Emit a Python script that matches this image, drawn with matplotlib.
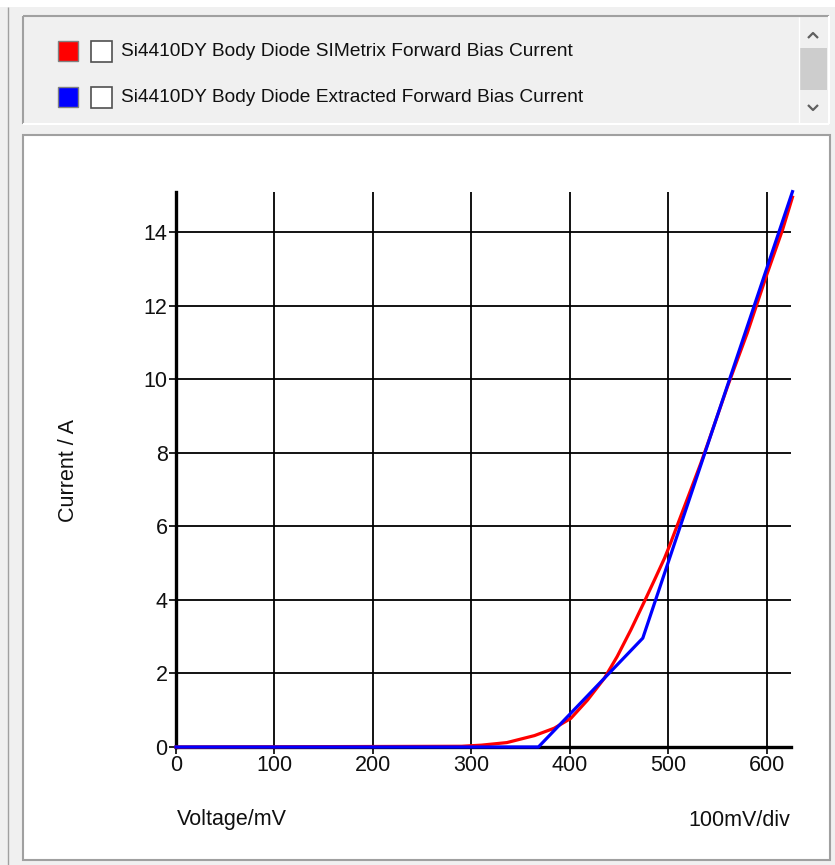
import matplotlib
matplotlib.use("Agg")
import matplotlib.pyplot as plt
from matplotlib.patches import Rectangle
from matplotlib.lines import Line2D

W, H = 835, 865

# SIMetrix simulated forward bias curve (mV, A)
red_v = [0, 290, 310, 336, 364, 384, 401, 418, 435, 448, 462, 475, 486, 496, 501, 520, 533, 540, 560, 580, 600, 616, 626]
red_i = [0, 0.02, 0.05, 0.12, 0.31, 0.51, 0.78, 1.28, 1.87, 2.46, 3.19, 3.92, 4.55, 5.13, 5.46, 6.8, 7.72, 8.25, 9.8, 11.25, 12.85, 14.07, 14.95]
# extracted model curve (piecewise linear)
blue_v = [0, 368, 474, 626]
blue_i = [0, 0, 2.96, 15.1]

legend_labels = ["Si4410DY Body Diode SIMetrix Forward Bias Current",
                 "Si4410DY Body Diode Extracted Forward Bias Current"]
legend_colors = ["#ff0000", "#0000ff"]
x_ticks = [0, 100, 200, 300, 400, 500, 600]
y_ticks = [0, 2, 4, 6, 8, 10, 12, 14]

plt.rcParams['font.family'] = ['Liberation Sans', 'DejaVu Sans']

fig = plt.figure(figsize=(W / 100, H / 100), dpi=100)
fig.patch.set_facecolor("#f0f0f0")


def fx(px):
    return px / W


def fy(py):
    return 1 - py / H


def box(x0, y0, x1, y1, z=0, **kw):
    r = Rectangle((fx(x0), fy(y1)), fx(x1) - fx(x0), fy(y0) - fy(y1),
                  transform=fig.transFigure, zorder=z, **kw)
    fig.patches.append(r)


def seg(xs, ys, color, lw=1.0):
    fig.add_artist(Line2D([fx(x) for x in xs], [fy(y) for y in ys], color=color, lw=lw,
                          transform=fig.transFigure, solid_capstyle="butt"))


# window chrome
box(0, 0, W, 7, facecolor="white", edgecolor="none")
seg([8, 8], [7, H], "#a0a0a0", 1.0)

# legend panel (sunken)
seg([23, 829], [16, 16], "#a0a0a0", 1.5)
seg([23, 23], [16, 124], "#a0a0a0", 1.5)
seg([23, 829], [124, 124], "white", 1.5)
seg([829, 829], [16, 124], "white", 1.5)
seg([799, 799], [17, 123], "white", 1.0)
box(800, 48, 827, 90, facecolor="#cdcdcd", edgecolor="none")
seg([808, 813, 818], [38, 33, 38], "#606060", 1.6)
seg([808, 813, 818], [105, 110, 105], "#606060", 1.6)

for k, (lab, col) in enumerate(zip(legend_labels, legend_colors)):
    yc = 51 + k * 46
    box(58, yc - 10, 78, yc + 10, facecolor=col, edgecolor="#808080", lw=1.0)
    box(91, yc - 10, 112, yc + 11, facecolor="white", edgecolor="#505050", lw=1.2)
    fig.text(fx(121), fy(yc + 1), lab, ha="left", va="center", fontsize=13.8,
             color="#101010")

# plot panel
box(23, 135, 830, 860, z=-5, facecolor="white", edgecolor="#a0a0a0", lw=1.5)

ax = fig.add_axes([fx(176), fy(747), fx(791) - fx(176), fy(192) - fy(747)])
ax.set_zorder(5)
ax.set_facecolor("white")
ax.set_xlim(0, 624.5)
ax.set_ylim(0, 15.09)
ax.set_xticks(x_ticks)
ax.set_yticks(y_ticks)
ax.set_xticklabels([str(v) for v in x_ticks], fontsize=15.5)
ax.set_yticklabels([str(v) for v in y_ticks], fontsize=15.5)
ax.tick_params(length=5, width=1.2, color="black", pad=1, labelcolor="#101010")
ax.grid(True, color="black", lw=1.3)
ax.set_axisbelow(True)
for s in ["top", "right"]:
    ax.spines[s].set_visible(False)
for s in ["left", "bottom"]:
    ax.spines[s].set_linewidth(2.4)

ax.plot(red_v, red_i, color="#ff0000", lw=2.3, solid_joinstyle="round",
        zorder=4, clip_on=False)
ax.plot(blue_v, blue_i, color="#0000ff", lw=2.3, solid_joinstyle="round",
        zorder=5, clip_on=False)

fig.text(fx(68), fy(470), "Current / A", rotation=90, ha="center", va="center",
         fontsize=15.5, color="#101010")
fig.text(fx(177), fy(820), "Voltage/mV", ha="left", va="center",
         fontsize=15.5, color="#101010")
fig.text(fx(790), fy(820), "100mV/div", ha="right", va="center",
         fontsize=15.5, color="#101010")

fig.savefig("out.png", dpi=100, facecolor=fig.get_facecolor())
